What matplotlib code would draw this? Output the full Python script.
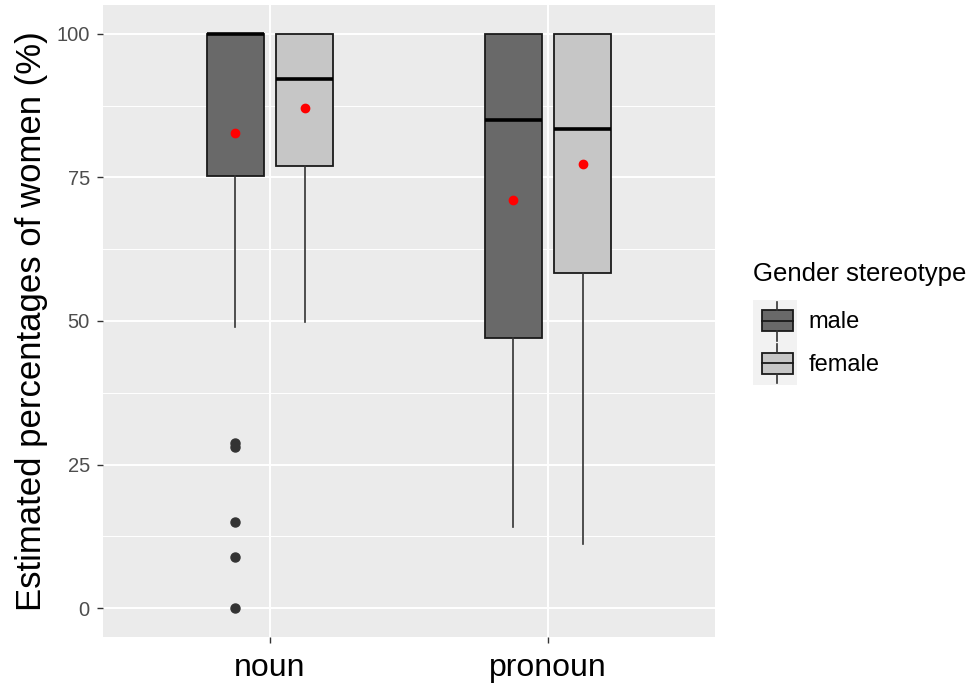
import matplotlib
matplotlib.use('Agg')
from matplotlib import pyplot as plt
from matplotlib.patches import Rectangle, Patch
from matplotlib.lines import Line2D
from matplotlib.legend_handler import HandlerBase

plt.rcParams['font.family'] = ['Liberation Sans', 'DejaVu Sans']

# data
categories = ['noun', 'pronoun']
groups = ['male', 'female']
q1 = {'male': [75.3, 47.1], 'female': [77.0, 58.4]}
med = {'male': [100, 85.0], 'female': [92.2, 83.5]}
q3 = {'male': [100, 100], 'female': [100, 100]}
wlo = {'male': [49.0, 14.1], 'female': [49.9, 11.1]}
whi = {'male': [100, 100], 'female': [100, 100]}
means = {'male': [82.8, 71.0], 'female': [87.1, 77.4]}
outliers = {'male': [[28.7, 28.0, 15.1, 9.0, 0.0], []], 'female': [[], []]}

fills = {'male': '#696969', 'female': '#C6C6C6'}
offsets = {'male': -0.125, 'female': 0.125}

fig = plt.figure(figsize=(9.79, 6.87), dpi=100)
ax = fig.add_axes([103/979, 1-637/687, (715-103)/979, (637-5)/687])
ax.set_facecolor('#EBEBEB')
for s in ax.spines.values():
    s.set_visible(False)

# grid
for y in [12.5, 37.5, 62.5, 87.5]:
    ax.axhline(y, color='white', lw=0.7, zorder=0)
for y in [0, 25, 50, 75, 100]:
    ax.axhline(y, color='white', lw=1.4, zorder=0)
for x in range(len(categories)):
    ax.axvline(x + 1, color='white', lw=1.4, zorder=0)

for g in groups:
    stats = []
    for i in range(len(categories)):
        stats.append(dict(med=med[g][i], q1=q1[g][i], q3=q3[g][i],
                          whislo=wlo[g][i], whishi=whi[g][i],
                          fliers=outliers[g][i], mean=means[g][i]))
    pos = [i + 1 + offsets[g] for i in range(len(categories))]
    ax.bxp(stats, positions=pos, widths=0.205, patch_artist=True,
           showmeans=True, showcaps=False,
           boxprops=dict(facecolor=fills[g], edgecolor='#1A1A1A', lw=1.3),
           medianprops=dict(color='black', lw=2.6),
           whiskerprops=dict(color='#333333', lw=1.2),
           flierprops=dict(marker='o', markerfacecolor='#333333',
                           markeredgecolor='#333333', markersize=6.5),
           meanprops=dict(marker='o', markerfacecolor='red',
                          markeredgecolor='red', markersize=6),
           manage_ticks=False, zorder=2)

ax.set_xlim(0.4, 2.6)
ax.set_ylim(-5, 105)
ax.set_xticks([1, 2])
ax.set_xticklabels(categories, fontsize=23, color='black')
ax.set_yticks([0, 25, 50, 75, 100])
ax.set_yticklabels(['0', '25', '50', '75', '100'], fontsize=14.5, color='#4D4D4D')
ax.tick_params(axis='both', length=4.5, width=1.0, color='#333333')
ax.tick_params(axis='y', pad=5)
ax.tick_params(axis='x', pad=7)
ax.set_ylabel('Estimated percentages of women (%)', fontsize=25, labelpad=6)


class BoxHandler(HandlerBase):
    def create_artists(self, legend, orig_handle, xdescent, ydescent,
                       width, height, fontsize, trans):
        x0, y0 = -xdescent, -ydescent
        bg = Rectangle((x0, y0), width, height, fc='#F2F2F2', ec='none',
                       transform=trans)
        bx = x0 + 0.2 * width
        bw = 0.72 * width
        box = Rectangle((bx, y0 + 0.26 * height), bw, 0.5 * height,
                        fc=orig_handle.get_facecolor(), ec='#1A1A1A', lw=1.3,
                        transform=trans)
        xm = bx + bw / 2
        med_line = Line2D([bx, bx + bw], [y0 + 0.51 * height] * 2,
                          color='#1A1A1A', lw=1.3, transform=trans)
        w1 = Line2D([xm, xm], [y0 + 0.04 * height, y0 + 0.26 * height],
                    color='#333333', lw=1.2, transform=trans)
        w2 = Line2D([xm, xm], [y0 + 0.76 * height, y0 + 0.96 * height],
                    color='#333333', lw=1.2, transform=trans)
        return [bg, box, med_line, w1, w2]


handles = [Patch(facecolor=fills[g]) for g in groups]
leg = fig.legend(handles, groups, loc='upper left',
                 bbox_to_anchor=(753/979, 1-262/687),
                 bbox_transform=fig.transFigure, frameon=False,
                 title='Gender stereotype', title_fontsize=18.5, fontsize=17,
                 handler_map={Patch: BoxHandler()},
                 handlelength=1.85, handleheight=2.4, labelspacing=0.0,
                 handletextpad=0.5, borderpad=0, borderaxespad=0,
                 alignment='left')
leg._legend_box.sep = 10

fig.savefig('out.png', dpi=100)
